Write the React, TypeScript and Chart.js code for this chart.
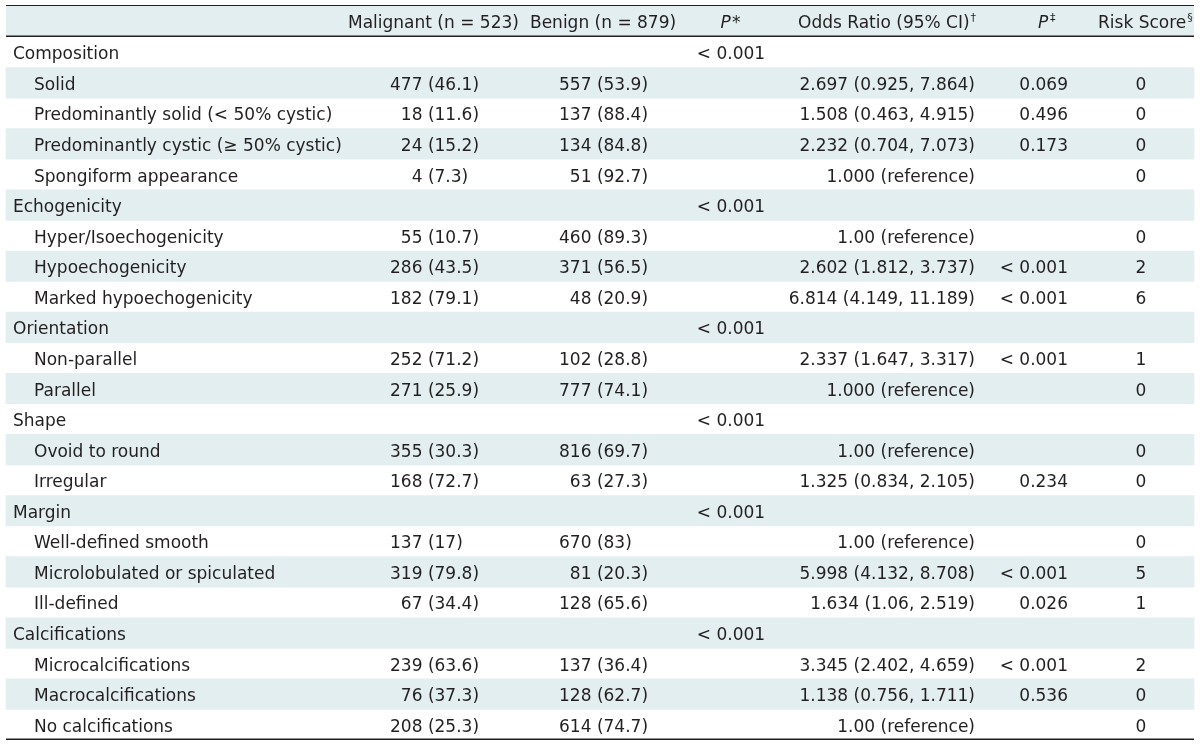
import React, { useEffect, useRef } from "react";
import { Chart, registerables } from "chart.js";

Chart.register(...registerables);

// ---------- DATA ----------
const rowLabels = [
  "Composition",
  "Solid",
  "Predominantly solid (< 50% cystic)",
  "Predominantly cystic (≥ 50% cystic)",
  "Spongiform appearance",
  "Echogenicity",
  "Hyper/Isoechogenicity",
  "Hypoechogenicity",
  "Marked hypoechogenicity",
  "Orientation",
  "Non-parallel",
  "Parallel",
  "Shape",
  "Ovoid to round",
  "Irregular",
  "Margin",
  "Well-defined smooth",
  "Microlobulated or spiculated",
  "Ill-defined",
  "Calcifications",
  "Microcalcifications",
  "Macrocalcifications",
  "No calcifications",
];

const isGroupRow = [
  true, false, false, false, false,
  true, false, false, false,
  true, false, false,
  true, false, false,
  true, false, false, false,
  true, false, false, false,
];

const malignant = [
  "", "477 (46.1)", "18 (11.6)", "24 (15.2)", "4 (7.3)",
  "", "55 (10.7)", "286 (43.5)", "182 (79.1)",
  "", "252 (71.2)", "271 (25.9)",
  "", "355 (30.3)", "168 (72.7)",
  "", "137 (17)", "319 (79.8)", "67 (34.4)",
  "", "239 (63.6)", "76 (37.3)", "208 (25.3)",
];

const benign = [
  "", "557 (53.9)", "137 (88.4)", "134 (84.8)", "51 (92.7)",
  "", "460 (89.3)", "371 (56.5)", "48 (20.9)",
  "", "102 (28.8)", "777 (74.1)",
  "", "816 (69.7)", "63 (27.3)",
  "", "670 (83)", "81 (20.3)", "128 (65.6)",
  "", "137 (36.4)", "128 (62.7)", "614 (74.7)",
];

const pUnivariate = [
  "< 0.001", "", "", "", "",
  "< 0.001", "", "", "",
  "< 0.001", "", "",
  "< 0.001", "", "",
  "< 0.001", "", "", "",
  "< 0.001", "", "", "",
];

const oddsRatio = [
  "", "2.697 (0.925, 7.864)", "1.508 (0.463, 4.915)", "2.232 (0.704, 7.073)", "1.000 (reference)",
  "", "1.00 (reference)", "2.602 (1.812, 3.737)", "6.814 (4.149, 11.189)",
  "", "2.337 (1.647, 3.317)", "1.000 (reference)",
  "", "1.00 (reference)", "1.325 (0.834, 2.105)",
  "", "1.00 (reference)", "5.998 (4.132, 8.708)", "1.634 (1.06, 2.519)",
  "", "3.345 (2.402, 4.659)", "1.138 (0.756, 1.711)", "1.00 (reference)",
];

const pMultivariate = [
  "", "0.069", "0.496", "0.173", "",
  "", "", "< 0.001", "< 0.001",
  "", "< 0.001", "",
  "", "", "0.234",
  "", "", "< 0.001", "0.026",
  "", "< 0.001", "0.536", "",
];

const riskScore = [
  "", "0", "0", "0", "0",
  "", "0", "2", "6",
  "", "1", "0",
  "", "0", "0",
  "", "0", "5", "1",
  "", "2", "0", "0",
];

const headerMalignant = "Malignant (n = 523)";
const headerBenign = "Benign (n = 879)";
const headerP = "P";
const headerPStarMark = "*";
const headerOdds = "Odds Ratio (95% CI)";
const headerOddsMark = "†";
const headerPDaggerMark = "‡";
const headerRisk = "Risk Score";
const headerRiskMark = "§";

// ---------- LAYOUT / STYLE ----------
const W = 1200;
const H = 746;
const TABLE_LEFT = 6;
const TABLE_RIGHT = 1194;
const HEADER_TOP = 6;
const BODY_TOP = 37;
const BODY_BOTTOM = 740;
const STRIPE = "#e3eef1";
const INK = "#231f20";
const FAMILY = '"DejaVu Sans", sans-serif';
const FS = 17;
const REG = `${FS}px ${FAMILY}`;
const ITAL = `italic ${FS}px ${FAMILY}`;
const SUP = `11px ${FAMILY}`;

const X_GROUP = 13;
const X_SUB = 34;
const X_MAL_SPLIT = 422.5;
const X_BEN_SPLIT = 591.5;
const X_P1_CENTER = 731;
const X_OR_RIGHT = 975;
const X_P2_RIGHT = 1068;
const X_RISK_CENTER = 1141;

const XH_MAL = 348;
const XH_BEN = 530;
const XH_P1 = 730;
const XH_OR = 798;
const XH_P2 = 1046;
const XH_RISK = 1098;

const BASE_OFFSET = 7;
const HEADER_BASELINE = 27.5;

export default function App() {
  const ref = useRef<HTMLCanvasElement>(null);

  useEffect(() => {
    document.body.style.margin = "0";
    const canvas = ref.current;
    if (!canvas) return;

    const stripeData = rowLabels.map((_, i) =>
      i % 2 === 1 ? [TABLE_LEFT, TABLE_RIGHT] : null
    );

    const tablePlugin = {
      id: "tableCells",
      afterDraw(chart: any) {
        const ctx: CanvasRenderingContext2D = chart.ctx;
        const xs = chart.scales.x;
        const ys = chart.scales.y;
        const px = (v: number) => xs.getPixelForValue(v);
        const left = px(TABLE_LEFT);
        const right = px(TABLE_RIGHT);
        const top = chart.chartArea.top;
        const bottom = chart.chartArea.bottom;

        ctx.save();
        // header band
        ctx.fillStyle = STRIPE;
        ctx.fillRect(left, HEADER_TOP, right - left, top - HEADER_TOP);

        // rules
        ctx.strokeStyle = INK;
        ctx.lineWidth = 1.2;
        ctx.beginPath();
        ctx.moveTo(left, HEADER_TOP - 0.5);
        ctx.lineTo(right, HEADER_TOP - 0.5);
        ctx.stroke();
        ctx.lineWidth = 1.5;
        ctx.beginPath();
        ctx.moveTo(left, top - 0.8);
        ctx.lineTo(right, top - 0.8);
        ctx.stroke();
        ctx.lineWidth = 1.6;
        ctx.beginPath();
        ctx.moveTo(left, bottom - 0.8);
        ctx.lineTo(right, bottom - 0.8);
        ctx.stroke();

        ctx.fillStyle = INK;
        ctx.textBaseline = "alphabetic";

        const draw = (s: string, x: number, y: number, align: CanvasTextAlign, font = REG) => {
          if (!s) return;
          ctx.font = font;
          ctx.textAlign = align;
          ctx.fillText(s, x, y);
        };
        const width = (s: string, font: string) => {
          ctx.font = font;
          return ctx.measureText(s).width;
        };
        const splitCell = (s: string, x: number, y: number) => {
          if (!s) return;
          const k = s.indexOf(" (");
          draw(s.slice(0, k), x, y, "right");
          draw(s.slice(k), x, y, "left");
        };

        // header
        const hb = HEADER_BASELINE;
        draw(headerMalignant, px(XH_MAL), hb, "left");
        draw(headerBenign, px(XH_BEN), hb, "left");
        {
          const w1 = width(headerP, ITAL);
          const w2 = width(headerPStarMark, REG);
          const x0 = px(XH_P1) - (w1 + w2) / 2;
          draw(headerP, x0, hb, "left", ITAL);
          draw(headerPStarMark, x0 + w1 + 1, hb, "left", REG);
        }
        {
          draw(headerOdds, px(XH_OR), hb, "left");
          const w = width(headerOdds, REG);
          draw(headerOddsMark, px(XH_OR) + w + 1, hb - 7, "left", SUP);
        }
        {
          const w1 = width(headerP, ITAL);
          const w2 = width(headerPDaggerMark, SUP);
          const x0 = px(XH_P2) - (w1 + w2) / 2;
          draw(headerP, x0, hb, "left", ITAL);
          draw(headerPDaggerMark, x0 + w1 + 1.5, hb - 7, "left", SUP);
        }
        {
          draw(headerRisk, px(XH_RISK), hb, "left");
          const w = width(headerRisk, REG);
          draw(headerRiskMark, px(XH_RISK) + w + 1, hb - 7, "left", SUP);
        }

        // body
        rowLabels.forEach((label, i) => {
          const y = ys.getPixelForValue(i) + BASE_OFFSET;
          draw(label, px(isGroupRow[i] ? X_GROUP : X_SUB), y, "left");
          splitCell(malignant[i], px(X_MAL_SPLIT), y);
          splitCell(benign[i], px(X_BEN_SPLIT), y);
          draw(pUnivariate[i], px(X_P1_CENTER), y, "center");
          draw(oddsRatio[i], px(X_OR_RIGHT), y, "right");
          draw(pMultivariate[i], px(X_P2_RIGHT), y, "right");
          draw(riskScore[i], px(X_RISK_CENTER), y, "center");
        });
        ctx.restore();
      },
    };

    const chart = new Chart(canvas, {
      type: "bar",
      data: {
        labels: rowLabels,
        datasets: [
          {
            data: stripeData as any,
            backgroundColor: STRIPE,
            borderWidth: 0,
            barPercentage: 1,
            categoryPercentage: 1,
          },
        ],
      },
      options: {
        indexAxis: "y",
        responsive: false,
        animation: false,
        events: [],
        layout: { padding: { top: BODY_TOP, bottom: H - BODY_BOTTOM, left: 0, right: 0 } },
        plugins: { legend: { display: false }, tooltip: { enabled: false } },
        scales: {
          x: { type: "linear", min: 0, max: W, display: false },
          y: { type: "category", display: false, offset: true },
        },
      },
      plugins: [tablePlugin],
    });
    return () => chart.destroy();
  }, []);

  return (
    <div style={{ position: "fixed", left: 0, top: 0, width: W, height: H, background: "#ffffff" }}>
      <canvas ref={ref} width={W} height={H} style={{ display: "block" }} />
    </div>
  );
}
